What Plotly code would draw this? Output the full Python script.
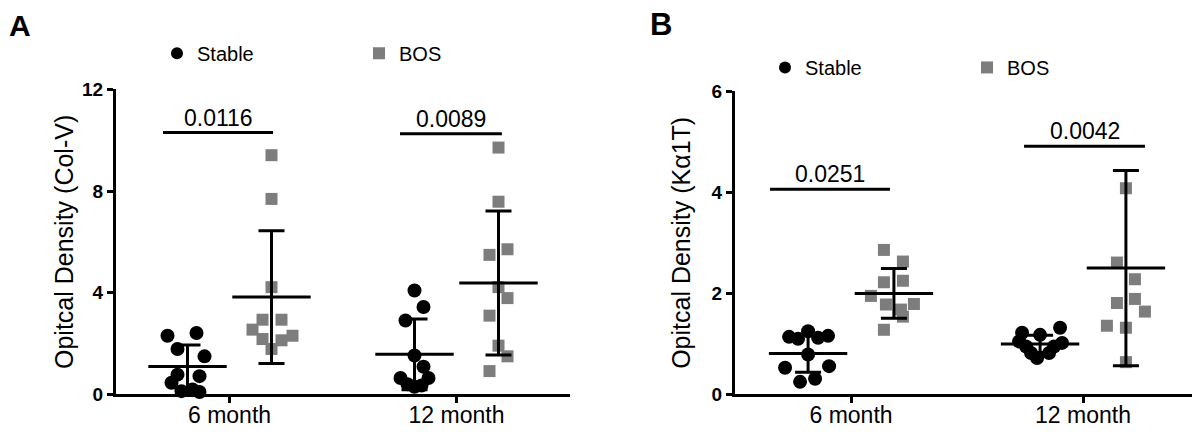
import plotly.graph_objects as go

FONT = "Liberation Sans, Arial, sans-serif"
BLACK = "#000000"
GRAY = "#7d7d7d"

categories = ["6 month", "12 month"]
cat_pos = [0.5, 1.5]

# Panel A: Optical density (Col-V)
A_stable_6 = [2.31, 2.42, 1.79, 1.50, 0.78, 0.72, 0.46, 0.13, 0.20, 0.10]
A_stable_6_jit = [-20, 9, -10, 17, -10, 12, -16, -6, 5, 12]
A_bos_6 = [9.41, 7.69, 4.22, 2.94, 2.94, 2.55, 2.31, 2.18, 2.13, 1.79]
A_bos_6_jit = [0, 0, 0, -9, 10, -19, 21, -9, 10, 0]
A_stable_12 = [4.09, 3.44, 2.91, 1.53, 1.09, 0.65, 0.65, 0.40, 0.35, 0.30]
A_stable_12_jit = [0, 9, -9, 0, 9, -14, 14, -7, 7, 0]
A_bos_12 = [9.71, 7.58, 5.71, 5.49, 4.22, 3.79, 3.10, 1.92, 1.50, 0.92]
A_bos_12_jit = [0, 0, 9, -9, 0, 9, -9, 0, 9, -9]
A_stable_mean = [1.10, 1.58]
A_stable_sd = [0.85, 1.39]
A_bos_mean = [3.83, 4.38]
A_bos_sd = [2.61, 2.83]
A_pvals = ["0.0116", "0.0089"]
A_pval_y = [10.3, 10.25]
A_pval_x0 = [0.207, 1.251]
A_pval_x1 = [0.692, 1.700]

# Panel B: Optical density (Kα1T)
B_stable_6 = [1.14, 1.10, 1.25, 1.12, 1.16, 0.79, 0.53, 0.56, 0.25, 0.31]
B_stable_6_jit = [-19, -10, 0, 10, 20, 0, -23, 21, -8, 7]
B_bos_6 = [2.86, 2.63, 2.22, 2.25, 1.95, 1.78, 1.79, 1.68, 1.54, 1.28]
B_bos_6_jit = [-10, 9, -10, 9, -23, -8, 20, 7, 9, -10]
B_stable_12 = [1.32, 1.22, 1.18, 1.02, 1.05, 0.82, 0.82, 0.72, 0.95, 0.95]
B_stable_12_jit = [20, -18, 0, 22, -21, -9, 9, -3, -14, 14]
B_bos_12 = [4.08, 2.61, 2.28, 1.81, 1.89, 1.64, 1.36, 1.32, 0.64]
B_bos_12_jit = [0, -9, 9, -9, 9, 19, -19, 0, 0]
B_stable_mean = [0.81, 1.00]
B_stable_sd = [0.37, 0.17]
B_bos_mean = [2.00, 2.50]
B_bos_sd = [0.49, 1.93]
B_pvals = ["0.0251", "0.0042"]
B_pval_y = [4.06, 4.91]
B_pval_x0 = [0.151, 1.246]
B_pval_x1 = [0.668, 1.767]

GROUP_OFF = 0.185

# The page body has an 8px margin, so the figure is sized to fit the window
PAGE_M = 8
W, H = 1200 - 2 * PAGE_M, 442 - 2 * PAGE_M


def px(xs):
    return min(max((xs - PAGE_M) / W, 0.0), 1.0)


def py(ys):
    return min(max(1 - (ys - PAGE_M) / H, 0.0), 1.0)


# layout geometry (pixels in the window)
A_x0, A_ppu = 116, 227.0
B_x0, B_ppu = 735, 232.0
A_x1 = A_x0 + 2 * A_ppu
B_x1 = 1200 - PAGE_M
A_ytop, B_ytop, Y0 = 83, 85, 404

fig = go.Figure()


def jit_x(cat_index, offset, jit, px_per_unit):
    return [cat_pos[cat_index] + offset + j / px_per_unit for j in jit]


def add_panel(xa, ya, legend, groups, means, px_per_unit):
    for (vals, jit, ci, off, sym, col, size, name) in groups:
        fig.add_trace(go.Scatter(
            x=jit_x(ci, off, jit, px_per_unit), y=vals, mode="markers",
            marker=dict(symbol=sym, color=col, size=size, line=dict(width=0)),
            name=name, legend=legend, legendgroup=legend + name,
            showlegend=(ci == 0), xaxis=xa, yaxis=ya,
            cliponaxis=False, hoverinfo="y"))
    for (mvals, sdvals, off) in means:
        fig.add_trace(go.Scatter(
            x=[p + off for p in cat_pos], y=mvals, mode="markers",
            marker=dict(symbol="line-ew", size=56, color=BLACK,
                        line=dict(width=3, color=BLACK)),
            error_y=dict(type="data", array=sdvals, visible=True,
                         color=BLACK, thickness=3, width=13),
            showlegend=False, xaxis=xa, yaxis=ya, cliponaxis=False,
            hoverinfo="y"))


add_panel("x", "y", "legend", [
    (A_stable_6, A_stable_6_jit, 0, -GROUP_OFF, "circle", BLACK, 14, "Stable"),
    (A_bos_6, A_bos_6_jit, 0, GROUP_OFF, "square", GRAY, 12, "BOS"),
    (A_stable_12, A_stable_12_jit, 1, -GROUP_OFF, "circle", BLACK, 14, "Stable"),
    (A_bos_12, A_bos_12_jit, 1, GROUP_OFF, "square", GRAY, 12, "BOS"),
], [(A_stable_mean, A_stable_sd, -GROUP_OFF), (A_bos_mean, A_bos_sd, GROUP_OFF)], A_ppu)

add_panel("x2", "y2", "legend2", [
    (B_stable_6, B_stable_6_jit, 0, -GROUP_OFF, "circle", BLACK, 14, "Stable"),
    (B_bos_6, B_bos_6_jit, 0, GROUP_OFF, "square", GRAY, 12, "BOS"),
    (B_stable_12, B_stable_12_jit, 1, -GROUP_OFF, "circle", BLACK, 14, "Stable"),
    (B_bos_12, B_bos_12_jit, 1, GROUP_OFF, "square", GRAY, 12, "BOS"),
], [(B_stable_mean, B_stable_sd, -GROUP_OFF), (B_bos_mean, B_bos_sd, GROUP_OFF)], B_ppu)

shapes = []
annotations = []
for xr, yr, pv, pyv, px0, px1 in [("x", "y", A_pvals, A_pval_y, A_pval_x0, A_pval_x1),
                                  ("x2", "y2", B_pvals, B_pval_y, B_pval_x0, B_pval_x1)]:
    for p, yv, a, b in zip(pv, pyv, px0, px1):
        shapes.append(dict(type="line", xref=xr, yref=yr, x0=a, x1=b, y0=yv, y1=yv,
                           line=dict(color=BLACK, width=3)))
        annotations.append(dict(xref=xr, yref=yr, x=(a + b) / 2, y=yv, text=p,
                                showarrow=False, yanchor="bottom", yshift=0,
                                font=dict(family=FONT, size=23, color=BLACK)))

annotations.append(dict(xref="paper", yref="paper", x=px(5), y=1.0, text="<b>A</b>",
                        showarrow=False, xanchor="left", yanchor="top", yshift=10,
                        borderpad=0, font=dict(family=FONT, size=30, color=BLACK)))
annotations.append(dict(xref="paper", yref="paper", x=px(648), y=py(15), text="<b>B</b>",
                        showarrow=False, xanchor="left", yanchor="middle",
                        font=dict(family=FONT, size=31, color=BLACK)))

xaxis_common = dict(tickvals=cat_pos, ticktext=categories,
                    showline=True, linecolor=BLACK, linewidth=3, ticks="outside",
                    ticklen=6, tickwidth=2.5, tickcolor=BLACK, showgrid=False,
                    zeroline=False, tickfont=dict(family=FONT, size=23, color=BLACK),
                    ticklabelstandoff=-8, fixedrange=True)
yaxis_common = dict(showline=True, linecolor=BLACK, linewidth=3, ticks="outside",
                    ticklen=6, tickwidth=2.5, tickcolor=BLACK, showgrid=False,
                    zeroline=False, tickfont=dict(family=FONT, size=19, color=BLACK,
                                                  weight="bold"),
                    fixedrange=True)

fig.update_layout(
    width=W, height=H, autosize=False,
    margin=dict(l=0, r=0, t=0, b=0),
    paper_bgcolor="white", plot_bgcolor="white",
    font=dict(family=FONT, color=BLACK),
    xaxis=dict(domain=[px(A_x0), px(A_x1)], anchor="y", range=[0, 2], **xaxis_common),
    xaxis2=dict(domain=[px(B_x0), px(B_x1)], anchor="y2",
                range=[0, (B_x1 - B_x0) / B_ppu], **xaxis_common),
    yaxis=dict(domain=[py(Y0), py(A_ytop)], anchor="x", range=[0, 12],
               tickvals=[0, 4, 8, 12],
               title=dict(text="Opitcal Density (Col-V)", standoff=2,
                          font=dict(family=FONT, size=25, color=BLACK)),
               **yaxis_common),
    yaxis2=dict(domain=[py(Y0), py(B_ytop)], anchor="x2", range=[0, 6],
                tickvals=[0, 2, 4, 6],
                title=dict(text="Opitcal Density (K\u03b11T)", standoff=14,
                           font=dict(family=FONT, size=25, color=BLACK)),
                **yaxis_common),
    legend=dict(orientation="h", x=px(157), y=py(45), xanchor="left", yanchor="middle",
                entrywidth=157, itemsizing="constant",
                font=dict(family=FONT, size=20, color=BLACK), bgcolor="rgba(0,0,0,0)"),
    legend2=dict(orientation="h", x=px(765), y=py(60), xanchor="left", yanchor="middle",
                 entrywidth=157, itemsizing="constant",
                 font=dict(family=FONT, size=20, color=BLACK), bgcolor="rgba(0,0,0,0)"),
    shapes=shapes, annotations=annotations,
)

fig.write_html("out.html")
